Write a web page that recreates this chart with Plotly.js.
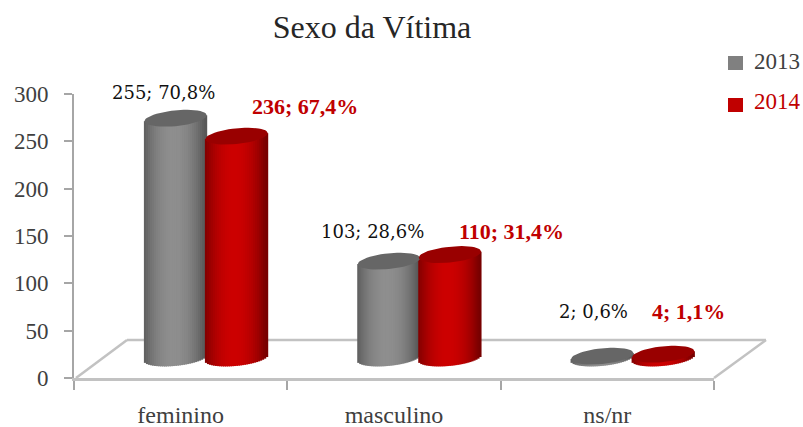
<!DOCTYPE html>
<html>
<head>
<meta charset="utf-8">
<script src="https://cdn.plot.ly/plotly-3.0.1.min.js"></script>
<style>html,body{margin:0;padding:0;background:#fff}#chart{width:803px;height:427px}</style>
</head>
<body>
<div id="chart"></div>
<script>
const categories = ["feminino", "masculino", "ns/nr"];
const values2013 = [255, 103, 2];
const values2014 = [236, 110, 4];
const pct2013 = ["70,8%", "28,6%", "0,6%"];
const pct2014 = ["67,4%", "31,4%", "1,1%"];
const yTicks = [0, 50, 100, 150, 200, 250, 300];

// plot box in pixels
const L = 74, R = 714, T = 94, B = 378;
const px = x => (x - L) / (R - L);
const py = y => (B - y) / (B - T);

// cylinder geometry (category units / value units)
const halfW = 0.146, tilt = 3.2, minor = 8.4, strips = 31;
const seriesDefs = [
  {name: "2013", vals: values2013, pct: pct2013, off: -0.024, dark: [88,88,88], light: [142,142,142], cap: "#666666", text: "#111111", font: "DejaVu Serif", size: 18, weight: "normal",
   shift: [[-12, 26], [-16, 30], [-9, 45]]},
  {name: "2014", vals: values2014, pct: pct2014, off: 0.262, dark: [120,0,0], light: [204,0,0], cap: "#990000", text: "#c00000", font: "Liberation Serif", size: 22, weight: "bold",
   shift: [[68, 30], [62, 23], [25, 43]]}
];

const traces = [{
  type: "bar", x: categories, y: [0, 0, 0], xaxis: "x", yaxis: "y",
  opacity: 0, showlegend: false, hoverinfo: "skip"
}];

const annotations = [];
seriesDefs.forEach(s => {
  const xs = [], ys = [], bases = [], cols = [];
  s.vals.forEach((v, i) => {
    const c = i + s.off;
    for (let j = 0; j < strips; j++) {
      const t = -1 + (2 * j + 1) / strips;
      const low = tilt * t - minor * Math.sqrt(1 - t * t);
      xs.push(c + t * halfW);
      bases.push(low);
      ys.push(v + tilt * t - low);
      const k = Math.pow(Math.abs(t + 0.05), 2.1);
      const m = s.dark.map((d, n) => Math.round(s.light[n] + (d - s.light[n]) * Math.min(1, k)));
      cols.push("rgb(" + m.join(",") + ")");
    }
  });
  traces.push({
    type: "bar", name: s.name, x: xs, y: ys, base: bases,
    width: 2 * halfW / strips * 1.5, xaxis: "x2", yaxis: "y2",
    marker: {color: cols, line: {width: 0}}, showlegend: false, hoverinfo: "skip"
  });
  const cx = [], cy = [];
  s.vals.forEach((v, i) => {
    for (let a = 0; a <= 48; a++) {
      const th = a / 48 * 2 * Math.PI;
      cx.push(i + s.off + halfW * Math.cos(th));
      cy.push(v + tilt * Math.cos(th) + minor * Math.sin(th));
    }
    cx.push(null); cy.push(null);
  });
  traces.push({
    type: "scatter", mode: "lines", x: cx, y: cy, fill: "toself", fillcolor: s.cap,
    line: {width: 0, color: s.cap}, xaxis: "x2", yaxis: "y2",
    showlegend: false, hoverinfo: "skip"
  });
  s.vals.forEach((v, i) => {
    annotations.push({
      xref: "x2", yref: "y2", x: i + s.off, y: v,
      xshift: s.shift[i][0], yshift: s.shift[i][1],
      text: v + "; " + s.pct[i], showarrow: false,
      font: {family: s.font, size: s.size, color: s.text, weight: s.weight}
    });
  });
});

// legend drawn by hand so the swatches and spacing match
[["2013", 62, "#808080", "#404040"], ["2014", 103, "#c00000", "#c00000"]].forEach(l => {
  annotations.push({
    xref: "paper", yref: "paper", x: px(752), y: py(l[1] - 1), xanchor: "left", yanchor: "middle",
    text: l[0], showarrow: false, font: {family: "Liberation Serif", size: 23, color: l[3]}
  });
});

const floor = "#c2c2c2";
const shapes = [
  {type: "line", xref: "paper", yref: "paper", x0: px(76), y0: py(378), x1: px(127), y1: py(340), line: {color: floor, width: 2.5}, layer: "below"},
  {type: "line", xref: "paper", yref: "paper", x0: px(127), y0: py(340), x1: px(766), y1: py(340), line: {color: floor, width: 2.5}, layer: "below"},
  {type: "line", xref: "paper", yref: "paper", x0: px(766), y0: py(340), x1: px(714), y1: py(378), line: {color: floor, width: 2.5}, layer: "below"},
  {type: "rect", xref: "paper", yref: "paper", x0: px(728), x1: px(743), y0: py(56), y1: py(70), fillcolor: "#808080", line: {width: 0}},
  {type: "rect", xref: "paper", yref: "paper", x0: px(728), x1: px(743), y0: py(98), y1: py(112), fillcolor: "#c00000", line: {width: 0}}
];

const layout = {
  width: 803, height: 427,
  margin: {l: L, r: 803 - R, t: T, b: 427 - B, pad: 0},
  paper_bgcolor: "#ffffff", plot_bgcolor: "rgba(0,0,0,0)",
  barmode: "overlay", showlegend: false,
  title: {text: "Sexo da Vítima", x: 372 / 803, xanchor: "center", y: 1 - 27 / 427, yanchor: "middle",
          font: {family: "Liberation Serif", size: 32, color: "#262626"}},
  xaxis: {
    type: "category", categoryorder: "array", categoryarray: categories, range: [-0.5, 2.5],
    tickson: "boundaries", ticks: "outside", ticklen: 9, tickwidth: 2, tickcolor: "#a6a6a6",
    showline: true, linecolor: floor, linewidth: 2.5, showgrid: false, zeroline: false,
    ticklabelstandoff: 14,
    tickfont: {family: "Liberation Serif", size: 24, color: "#404040"}
  },
  yaxis: {
    range: [0, 300], tickmode: "array", tickvals: yTicks, ticks: "outside", ticklen: 8, tickwidth: 2,
    tickcolor: "#a6a6a6", showline: true, linecolor: "#a6a6a6", linewidth: 2, showgrid: false, zeroline: false,
    ticklabelstandoff: 11,
    tickfont: {family: "Liberation Serif", size: 23, color: "#404040"}
  },
  xaxis2: {overlaying: "x", range: [-0.5, 2.5], visible: false, fixedrange: true},
  yaxis2: {overlaying: "y", range: [-21.3, 280.8], visible: false, fixedrange: true},
  annotations: annotations,
  shapes: shapes
};

Plotly.newPlot("chart", traces, layout, {displayModeBar: false, staticPlot: true});
</script>
</body>
</html>
